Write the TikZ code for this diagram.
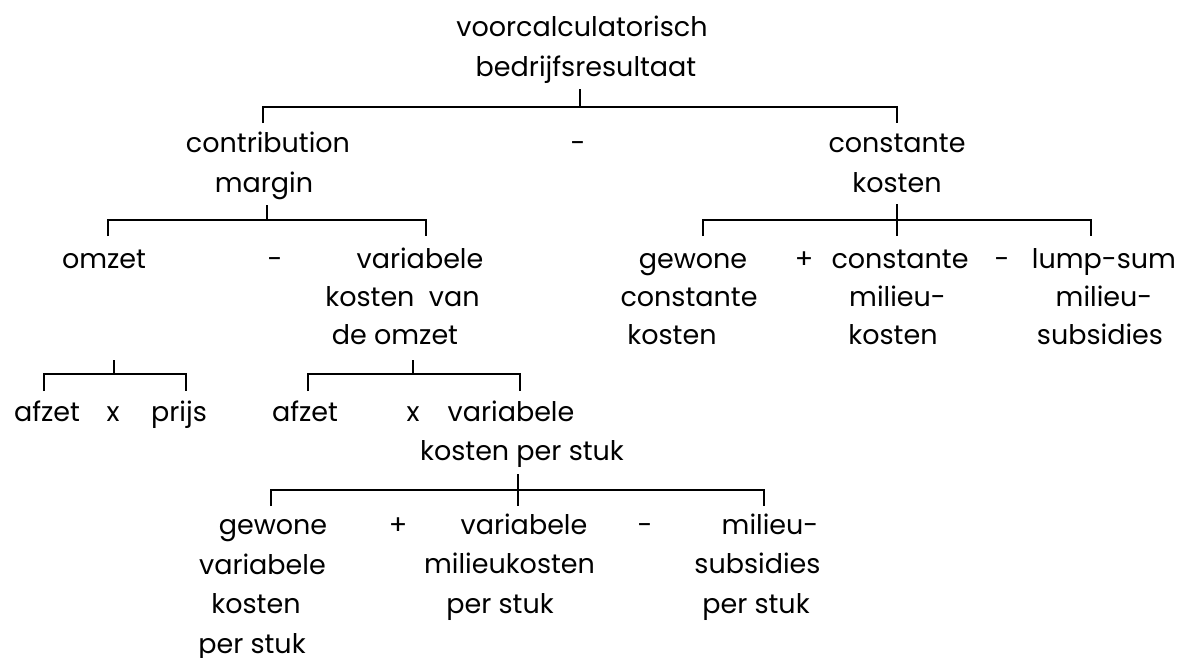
\documentclass[tikz,border=0pt]{standalone}
\usepackage{fontspec}
\setmainfont{Poppins}
\newcommand\lineshift[2]{\hspace*{#1}#2\hspace*{-#1}}
\begin{document}
\begin{tikzpicture}[x=1pt,y=-1pt,
  every node/.style={inner sep=0pt, outer sep=0pt, font=\fontsize{27}{39}\selectfont},
  txt/.style={anchor=base, align=center},
  br/.style={line width=1.9pt}]
\useasboundingbox (0,0) rectangle (1182,657);
% row 1 (anchor = baseline of last line)
\node[txt] (root) at (584,76) {\lineshift{-2pt}{voorcalculatorisch}\\[1pt]\lineshift{2pt}{bedrijfsresultaat}};
% bracket 1
\coordinate (b1c) at (580,107); \coordinate (b1l) at (263,107); \coordinate (b1r) at (897,107);
\draw[br] (b1c) -- ++(0,-18);
\draw[br] ([yshift=-16pt]b1l) -- (b1l) -- (b1r) -- ([yshift=-16pt]b1r);
% row 2
\node[txt] (cm) at (266,192) {\lineshift{2pt}{contribution}\\[1pt]\lineshift{-2pt}{margin}};
\node[txt] (m1) at (578,152) {-};
\node[txt] (ck) at (897,192) {constante\\[1pt]kosten};
% bracket 2
\coordinate (b2c) at (267,220); \coordinate (b2l) at (108,220); \coordinate (b2r) at (426,220);
\draw[br] (b2c) -- ++(0,-15);
\draw[br] ([yshift=-16pt]b2l) -- (b2l) -- (b2r) -- ([yshift=-16pt]b2r);
% bracket 3
\coordinate (b3c) at (897,220); \coordinate (b3l) at (703,220); \coordinate (b3r) at (1091,220);
\draw[br] ([yshift=16pt]b3c) -- ([yshift=-16pt]b3c);
\draw[br] ([yshift=-16pt]b3l) -- (b3l) -- (b3r) -- ([yshift=-16pt]b3r);
% row 3
\node[txt] (omzet) at (104,268) {omzet};
\node[txt] (m2) at (275,268) {-};
\node[txt] (vko) at (405,344) {\lineshift{15pt}{variabele}\\[-1pt]\lineshift{-5pt}{kosten\ \ van}\\[-1pt]\lineshift{-10pt}{de omzet}};
\node[txt] (gck) at (686,344) {\lineshift{7pt}{gewone}\\[-1pt]\lineshift{6pt}{constante}\\[-1pt]\lineshift{-14pt}{kosten}};
\node[txt] (p1) at (804,268) {+};
\node[txt] (cmk) at (897,344) {\lineshift{3pt}{constante}\\[-1pt]\lineshift{1pt}{milieu-}\\[-1pt]\lineshift{-4pt}{kosten}};
\node[txt] (m3) at (1002,268) {-};
\node[txt] (lms) at (1104,344) {lump-sum\\[-1pt]milieu-\\[-1pt]\lineshift{-4pt}{subsidies}};
% bracket 4
\coordinate (b4c) at (114,374); \coordinate (b4l) at (44,374); \coordinate (b4r) at (186,374);
\draw[br] (b4c) -- ++(0,-14);
\draw[br] ([yshift=-17pt]b4l) -- (b4l) -- (b4r) -- ([yshift=-17pt]b4r);
% bracket 5
\coordinate (b5c) at (413,374); \coordinate (b5l) at (308,374); \coordinate (b5r) at (520,374);
\draw[br] (b5c) -- ++(0,-14);
\draw[br] ([yshift=-17pt]b5l) -- (b5l) -- (b5r) -- ([yshift=-17pt]b5r);
% row 4
\node[txt] (af1) at (47,421) {afzet};
\node[txt] (x1) at (113,421) {x};
\node[txt] (prijs) at (179,421) {prijs};
\node[txt] (af2) at (305,421) {afzet};
\node[txt] (x2) at (413,421) {x};
\node[txt] (vkps) at (517,460) {\lineshift{-6pt}{variabele}\\\lineshift{5pt}{kosten per stuk}};
% bracket 6
\coordinate (b6c) at (518,490); \coordinate (b6l) at (271,490); \coordinate (b6r) at (764,490);
\draw[br] ([yshift=16pt]b6c) -- ([yshift=-16pt]b6c);
\draw[br] ([yshift=-16pt]b6l) -- (b6l) -- (b6r) -- ([yshift=-16pt]b6r);
% row 5
\node[txt] (gvk) at (260,653) {\lineshift{13pt}{gewone}\\[0.5pt]\lineshift{5pt}{variabele}\\[0.5pt]\lineshift{-8pt}{kosten}\\[0.5pt]\lineshift{-8pt}{per stuk}};
\node[txt] (p2) at (398,534) {+};
\node[txt] (vmps) at (511,613) {\lineshift{13pt}{variabele}\\[0.5pt]\lineshift{-3pt}{milieukosten}\\[0.5pt]\lineshift{-11pt}{per stuk}};
\node[txt] (m4) at (645,534) {-};
\node[txt] (mps) at (760,613) {\lineshift{10pt}{milieu-}\\[0.5pt]\lineshift{-5pt}{subsidies}\\[0.5pt]\lineshift{-4pt}{per stuk}};
\end{tikzpicture}
\end{document}
